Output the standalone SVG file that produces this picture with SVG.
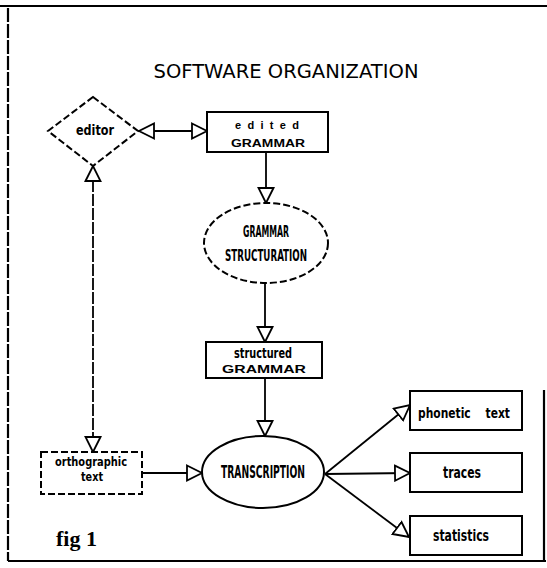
<svg xmlns="http://www.w3.org/2000/svg" width="547" height="568" viewBox="0 0 547 568">
  <style>
    .frame { fill: none; stroke: #000; stroke-width: 2.2; }
    .shape { fill: #fff; stroke: #000; stroke-width: 2; }
    .dash { stroke-dasharray: 7 3; }
    .link { fill: none; stroke: #000; stroke-width: 1.8; }
    .lbl { font-family: "Liberation Sans", "DejaVu Sans", sans-serif; font-weight: bold; fill: #000; text-anchor: middle; }
    .cond { font-family: "DejaVu Sans", "Liberation Sans", sans-serif; font-stretch: condensed; font-weight: bold; fill: #000; text-anchor: middle; }
    .title { font-family: "DejaVu Sans", "Liberation Sans", sans-serif; font-size: 19px; fill: #000; text-anchor: middle; }
  </style>
  <defs>
    <marker id="tri" viewBox="-1 -9 17 18" markerWidth="17" markerHeight="18" refX="15" refY="0" orient="auto-start-reverse" markerUnits="userSpaceOnUse">
      <path d="M0,-7.5 L15,0 L0,7.5 Z" fill="#fff" stroke="#000" stroke-width="1.8"/>
    </marker>
  </defs>

  <!-- outer frame -->
  <g id="frame">
    <line class="frame" x1="0" y1="6" x2="547" y2="6" stroke-width="2.6"/>
    <line class="frame" x1="8" y1="8" x2="8" y2="561" stroke-dasharray="14 2"/>
    <line class="frame" x1="8" y1="561" x2="546" y2="561"/>
    <line class="frame" x1="544" y1="390" x2="544" y2="561"/>
  </g>

  <text class="title" x="286" y="78" textLength="265" lengthAdjust="spacingAndGlyphs">SOFTWARE ORGANIZATION</text>

  <!-- connectors -->
  <g id="connectors">
    <line class="link" x1="139" y1="131" x2="207" y2="131" marker-start="url(#tri)" marker-end="url(#tri)"/>
    <line class="link" x1="266" y1="152" x2="266" y2="203" marker-end="url(#tri)"/>
    <line class="link" x1="265" y1="283" x2="265" y2="342" marker-end="url(#tri)"/>
    <line class="link" x1="265" y1="378" x2="265" y2="436" marker-end="url(#tri)"/>
    <line class="link" x1="93" y1="166" x2="93" y2="452" stroke-dasharray="12 2" marker-start="url(#tri)" marker-end="url(#tri)"/>
    <line class="link" x1="142" y1="473" x2="202" y2="473" marker-end="url(#tri)"/>
    <line class="link" x1="325" y1="474" x2="410" y2="405" marker-end="url(#tri)"/>
    <line class="link" x1="325" y1="474" x2="410" y2="473" marker-end="url(#tri)"/>
    <line class="link" x1="325" y1="474" x2="409" y2="537" marker-end="url(#tri)"/>
  </g>

  <g id="editor">
    <polygon class="shape dash" points="93,97 138,131 93,166 48,131"/>
    <text class="cond" x="95" y="135" font-size="14" textLength="38" lengthAdjust="spacingAndGlyphs">editor</text>
  </g>

  <g id="edited-grammar">
    <rect class="shape" x="207" y="112" width="121" height="40"/>
    <text class="lbl" x="267" y="129" font-size="11" textLength="64" lengthAdjust="spacing">edited</text>
    <text class="lbl" x="268" y="147" font-size="10" textLength="74" lengthAdjust="spacingAndGlyphs">GRAMMAR</text>
  </g>

  <g id="grammar-structuration">
    <ellipse class="shape dash" cx="266" cy="243" rx="62" ry="40"/>
    <text class="cond" x="266" y="237" font-size="15" textLength="46" lengthAdjust="spacingAndGlyphs">GRAMMAR</text>
    <text class="cond" x="266" y="261" font-size="16" textLength="82" lengthAdjust="spacingAndGlyphs">STRUCTURATION</text>
  </g>

  <g id="structured-grammar">
    <rect class="shape" x="206" y="342" width="116" height="36"/>
    <text class="cond" x="263" y="358" font-size="14" textLength="58" lengthAdjust="spacingAndGlyphs">structured</text>
    <text class="lbl" x="264" y="373" font-size="10" textLength="84" lengthAdjust="spacingAndGlyphs">GRAMMAR</text>
  </g>

  <g id="orthographic-text">
    <rect class="shape dash" x="41" y="452" width="101" height="42"/>
    <text class="cond" x="91" y="466" font-size="13" textLength="72" lengthAdjust="spacingAndGlyphs">orthographic</text>
    <text class="cond" x="92" y="481" font-size="13" textLength="22" lengthAdjust="spacingAndGlyphs">text</text>
  </g>

  <g id="transcription">
    <ellipse class="shape" cx="263" cy="472" rx="61" ry="36"/>
    <text class="cond" x="263" y="478" font-size="17" textLength="84" lengthAdjust="spacingAndGlyphs">TRANSCRIPTION</text>
  </g>

  <g id="phonetic-text">
    <rect class="shape" x="410" y="391" width="112" height="39"/>
    <text class="cond" x="464" y="418" font-size="14" xml:space="preserve" textLength="92" lengthAdjust="spacingAndGlyphs">phonetic    text</text>
  </g>

  <g id="traces">
    <rect class="shape" x="410" y="453" width="112" height="39"/>
    <text class="cond" x="462" y="478" font-size="15" textLength="38" lengthAdjust="spacingAndGlyphs">traces</text>
  </g>

  <g id="statistics">
    <rect class="shape" x="410" y="516" width="112" height="39"/>
    <text class="cond" x="461" y="541" font-size="15" textLength="56" lengthAdjust="spacingAndGlyphs">statistics</text>
  </g>

  <text x="56" y="546" font-family="Liberation Serif, DejaVu Serif, serif" font-size="22" font-weight="bold">fig 1</text>
</svg>
